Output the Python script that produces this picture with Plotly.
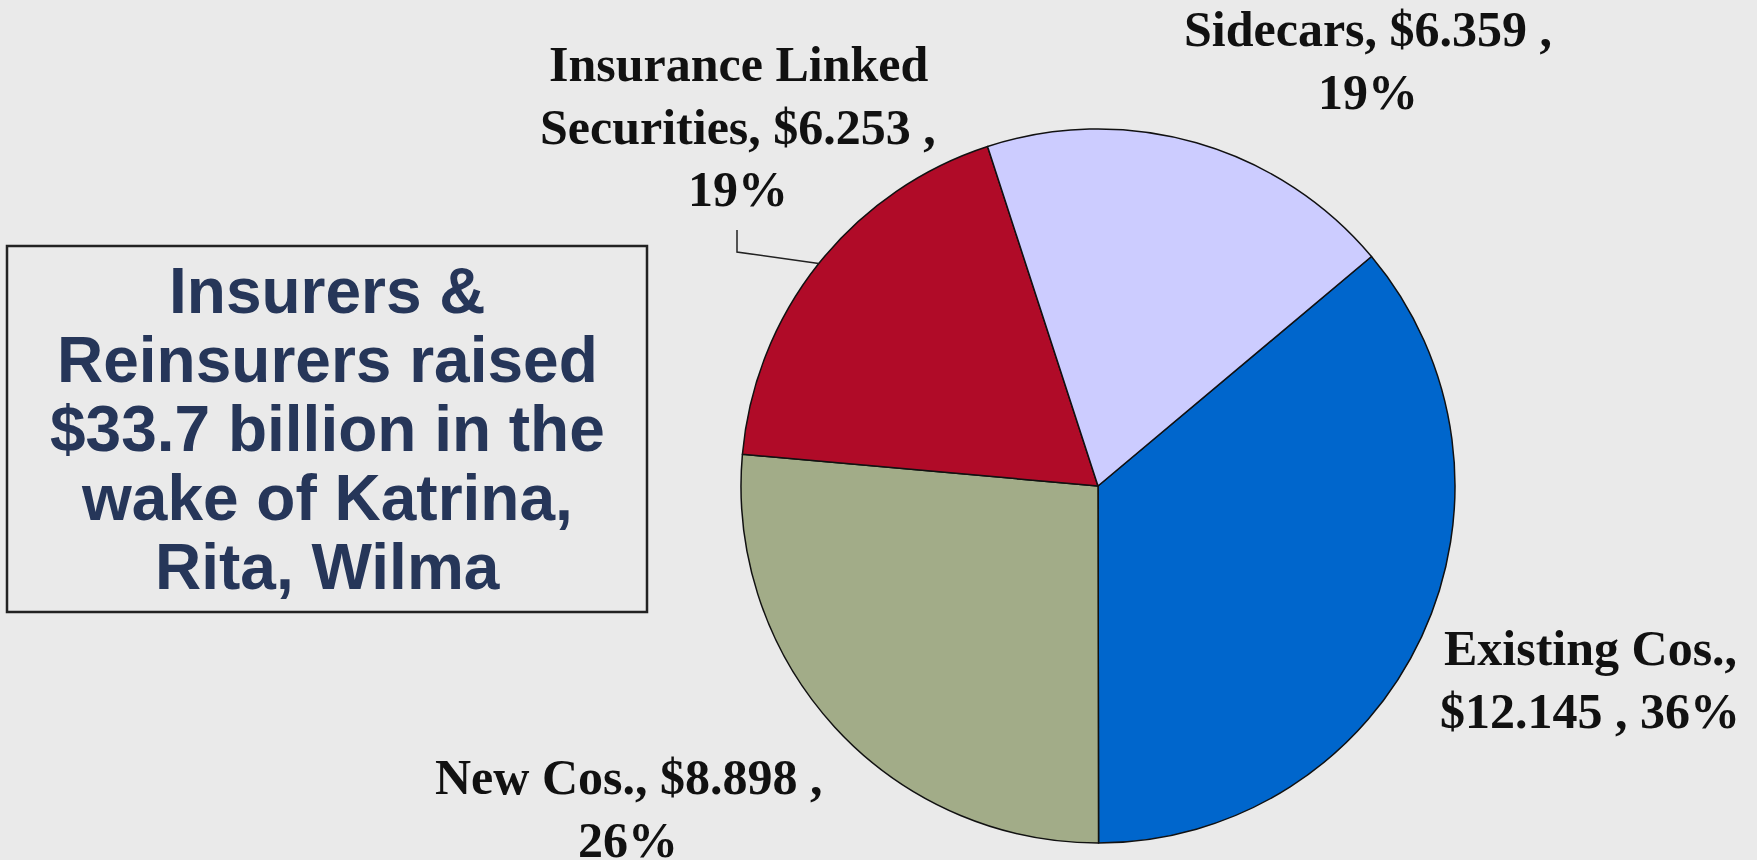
import math
import plotly.graph_objects as go

# ---- data ----
categories = ["Existing Cos.", "New Cos.", "Insurance Linked Securities", "Sidecars"]
values = [12.145, 8.898, 6.253, 6.359]
colors = ["#0066CC", "#A2AC88", "#B00B28", "#CCCCFF"]
box_lines = ["Insurers &", "Reinsurers raised", "$33.7 billion in the", "wake of Katrina,", "Rita, Wilma"]

W, H = 1757, 860
total = sum(values)
pcts = [round(v / total * 100) for v in values]

# label lines built from data, broken as in the original
def label_lines(i):
    name, v, p = categories[i], values[i], pcts[i]
    if i == 0:
        return [f"{name},", f"${v:.3f} , {p}%"]
    if i == 2:
        return ["Insurance Linked", f"Securities, ${v:.3f} ,", f"{p}%"]
    return [f"{name}, ${v:.3f} ,", f"{p}%"]

# pie geometry (pixels)
cx, cy, r = 1098, 486, 357
rotation = 50

fig = go.Figure(go.Pie(
    labels=categories, values=values, sort=False, direction="clockwise",
    rotation=rotation, textinfo="none", hoverinfo="label+value+percent",
    marker=dict(colors=colors, line=dict(color="#111111", width=1.5)),
    domain=dict(x=[(cx - r) / W, (cx + r) / W], y=[1 - (cy + r) / H, 1 - (cy - r) / H]),
    showlegend=False,
))

def px(x):
    return x / W

def py(y):
    return 1 - y / H

label_font = dict(family="Liberation Serif, Times New Roman, serif", size=50, color="#111111")
# (center x, center y of first line) in pixels
label_pos = {0: (1590, 648), 1: (628, 777), 2: (738, 64), 3: (1368, 29)}
line_gap = 62.5
annotations = []
for i, (x, y0) in label_pos.items():
    for k, t in enumerate(label_lines(i)):
        annotations.append(dict(x=px(x), y=py(y0 + k * line_gap), xref="paper", yref="paper",
                                text=f"<b>{t}</b>", showarrow=False, font=label_font,
                                xanchor="center", yanchor="middle"))

# leader line for Insurance Linked Securities, ending on the slice's mid-angle
start = rotation + sum(values[:2]) / total * 360
mid = math.radians(start + values[2] / total * 360 / 2)
ex, ey = cx + r * math.sin(mid), cy - r * math.cos(mid)
shapes = [dict(type="path", xref="paper", yref="paper",
               path=f"M {px(737)} {py(230)} L {px(737)} {py(252)} L {px(ex)} {py(ey)}",
               line=dict(color="#222222", width=1.5))]

# text box
bx0, by0, bx1, by1 = 7, 246, 647, 612
shapes.append(dict(type="rect", xref="paper", yref="paper", x0=px(bx0), x1=px(bx1), y0=py(by1), y1=py(by0),
                   line=dict(color="#222222", width=2.5), fillcolor="rgba(0,0,0,0)"))
box_font = dict(family="Liberation Sans, Arial, sans-serif", size=64, color="#263659")
for k, t in enumerate(box_lines):
    yc = 429 + (k - 2) * 69
    annotations.append(dict(x=px(327), y=py(yc), xref="paper", yref="paper", text=f"<b>{t}</b>",
                            showarrow=False, font=box_font, xanchor="center", yanchor="middle"))

fig.update_layout(width=W, height=H, margin=dict(l=0, r=0, t=0, b=0),
                  paper_bgcolor="#EAEAEA", plot_bgcolor="#EAEAEA",
                  annotations=annotations, shapes=shapes)
fig.write_html("out.html")
